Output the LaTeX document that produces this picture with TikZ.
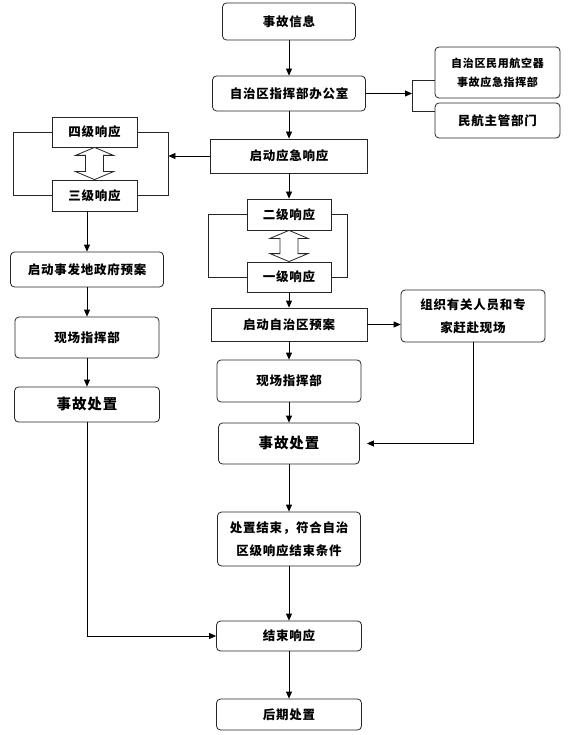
\documentclass[tikz,border=0pt]{standalone}
\usepackage{fontspec}
\setmainfont{Noto Sans CJK SC}[LetterSpace=6]
\usetikzlibrary{arrows.meta,calc}

\tikzset{
	box/.style={draw=black!85, line width=0.8pt, fill=white, inner sep=0pt, align=center,
		font=\fontsize{12.5}{23}\selectfont\bfseries},
	rbox/.style={box, rounded corners=4pt},
	arr/.style={-{Triangle[length=7pt,width=6pt]}, line width=0.8pt},
	frame/.style={draw=black!85, line width=0.8pt}
}

% hollow double arrow from the bottom of #1 to the top of #2
\newcommand{\dblarrow}[2]{%
	\draw[frame, fill=white] (#1.south) -- ++(19,8) -- ++(-10,0) -- ($(#2.north)+(9,-8)$) -- ++(10,0)
		-- (#2.north) -- ++(-19,-8) -- ++(10,0) -- ($(#1.south)+(-9,8)$) -- ++(-10,0) -- cycle;}

\begin{document}
\begin{tikzpicture}[x=1pt, y=-1pt]
			\useasboundingbox (0,0) rectangle (574,735);
			
			% main column
			\node[rbox, minimum width=133pt, minimum height=37pt] (info) at (289, 21.5) {事故信息};
			\node[rbox, minimum width=153pt, minimum height=35pt] (office) at (289, 93.5) {自治区指挥部办公室};
			\node[rbox, minimum width=125pt, minimum height=51pt, font=\fontsize{11}{19}\selectfont\bfseries] (air) at (497.5, 72.5) {自治区民用航空器\\事故应急指挥部};
			\node[rbox, minimum width=125pt, minimum height=35pt] (caac) at (497.5, 120.5) {民航主管部门};
			\node[box, minimum width=157pt, minimum height=34pt] (start) at (289, 156) {启动应急响应};
			
			% levels
			\node[box, minimum width=85pt, minimum height=30pt] (r4) at (94.5, 132) {四级响应};
			\node[box, minimum width=85pt, minimum height=31pt] (r3) at (94.5, 195.5) {三级响应};
			\node[box, minimum width=84pt, minimum height=31pt] (r2) at (289, 214.5) {二级响应};
			\node[box, minimum width=84pt, minimum height=30pt] (r1) at (289, 277) {一级响应};
			
			\node[box, minimum width=156pt, minimum height=33pt] (plan) at (289, 324.5) {启动自治区预案};
			\node[rbox, minimum width=144pt, minimum height=52pt] (org) at (473, 316) {组织有关人员和专\\家赶赴现场};
			\node[rbox, minimum width=144pt, minimum height=42pt] (site2) at (289, 381) {现场指挥部};
			\node[rbox, minimum width=141pt, minimum height=41pt, font=\fontsize{14.5}{23}\selectfont\bfseries] (deal2) at (289, 443.5) {事故处置};
			\node[rbox, minimum width=143pt, minimum height=54pt] (endcond) at (289, 539) {处置结束，符合自治\\区级响应结束条件};
			\node[rbox, minimum width=145pt, minimum height=30pt] (endresp) at (289, 636) {结束响应};
			\node[rbox, minimum width=145pt, minimum height=31pt] (after) at (289, 714.5) {后期处置};
			
			% left column
			\node[rbox, minimum width=153pt, minimum height=35pt] (gov) at (87, 269.5) {启动事发地政府预案};
			\node[rbox, minimum width=144pt, minimum height=41pt] (site1) at (87, 337.5) {现场指挥部};
			\node[rbox, minimum width=145pt, minimum height=35pt, font=\fontsize{14.5}{23}\selectfont\bfseries] (deal1) at (87, 404.5) {事故处置};
			
			% frames round the levels
			\draw[frame] (r4.west) -- ++(-38,0) |- (r3.west);
			\draw[frame] (r4.east) -- ++(31,0) coordinate (fr) |- (r3.east);
			\draw[frame] (r2.west) -- ++(-38,0) |- (r1.west);
			\draw[frame] (r2.east) -- ++(16,0) |- (r1.east);
			\dblarrow{r4}{r3}
			\dblarrow{r2}{r1}
			
			% bracket to the right
			\coordinate (bt) at (412,80);
			\coordinate (bb) at (412,111);
			\draw[frame] (air.west |- bt) -- (bt) -- (bb) -- (caac.west |- bb);
			
			\foreach \a/\b in {info/office, office/start, start/r2, r1/plan, plan/site2, site2/deal2, deal2/endcond, endcond/endresp, endresp/after, gov/site1, site1/deal1}{
				\draw[arr] (\a) -- (\b);
			}
			\draw[arr] (r3.south -| gov.north) -- (gov.north);
			\draw[arr] (office.east) -- (bt |- office.east);
			\draw[arr] (start.west) -- (fr |- start.west);
			\draw[arr] (plan.east) -- (org.west |- plan.east);
			\draw[arr, shorten >=7pt] (org.south) |- (deal2.east);
			\draw[arr] (deal1.south) |- (endresp.west);
		\end{tikzpicture}
\end{document}
